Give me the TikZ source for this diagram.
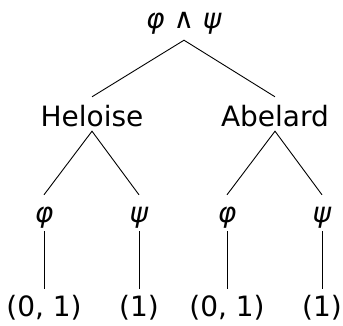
\documentclass[tikz,border=0pt]{standalone}
\usepackage{fontspec}
\setmainfont{DejaVu Sans}
\begin{document}
\begin{tikzpicture}[x=1pt,y=-1pt,
  lbl/.style={anchor=base,inner sep=0pt,text height=27pt,text depth=9pt,font=\fontsize{28}{32}\selectfont},
  player/.style={lbl,text height=29pt,text depth=5pt},
  branch/.style={draw=black,line width=0.9pt}]
\useasboundingbox (0,0) rectangle (343,325);
% root and the two players
\node[lbl,text depth=12pt] (root) at (184,28) {\textit{φ} ∧ \textit{ψ}};
\node[player] (hel) at (92,126) {Heloise};
\node[player] (abe) at (275,126) {Abelard};
% subformulas
\node[lbl] (hphi) at (44,222) {\textit{φ}};
\node[lbl] (hpsi) at (139,222) {\textit{ψ}};
\node[lbl] (aphi) at (227,222) {\textit{φ}};
\node[lbl] (apsi) at (322,222) {\textit{ψ}};
% payoffs
\node[lbl] (hphiv) at (44,316) {(0, 1)};
\node[lbl] (hpsiv) at (139,316) {(1)};
\node[lbl] (aphiv) at (227,316) {(0, 1)};
\node[lbl] (apsiv) at (322,316) {(1)};
% edges
\draw[branch] (hel.north) -- (root.south) -- (abe.north);
\draw[branch] (hphi.north) -- (hel.south) -- (hpsi.north);
\draw[branch] (aphi.north) -- (abe.south) -- (apsi.north);
\draw[branch] (hphi.south) -- (hphiv.north);
\draw[branch] (hpsi.south) -- (hpsiv.north);
\draw[branch] (aphi.south) -- (aphiv.north);
\draw[branch] (apsi.south) -- (apsiv.north);
\end{tikzpicture}
\end{document}
